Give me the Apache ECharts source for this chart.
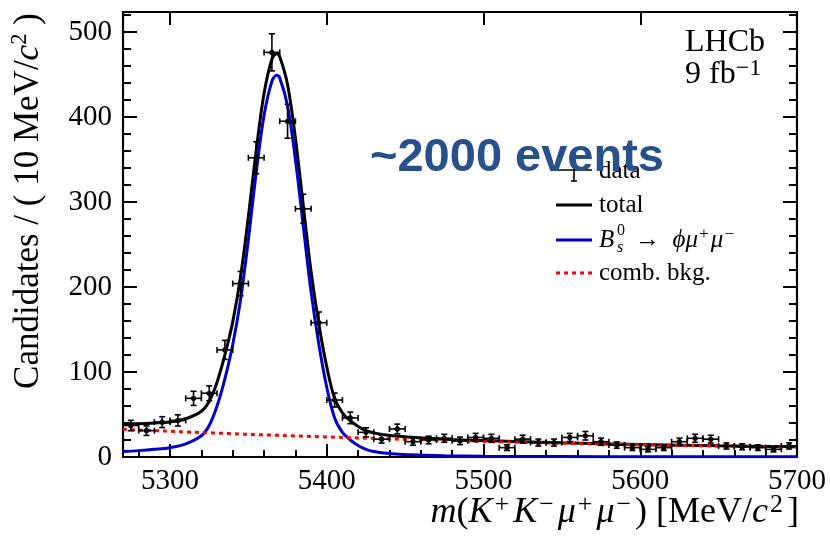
<!DOCTYPE html>
<html>
<head>
<meta charset="utf-8">
<script src="https://cdn.jsdelivr.net/npm/echarts@6/dist/echarts.min.js"></script>
<style>
html, body { margin: 0; padding: 0; background: #fff; }
#chart { width: 830px; height: 539px; }
</style>
</head>
<body>
<div id="chart"></div>
<script>
// data points: 10 MeV bins
var binCenters = [5275, 5285, 5295, 5305, 5315, 5325, 5335, 5345, 5355, 5365,
    5375, 5385, 5395, 5405, 5415, 5425, 5435, 5445, 5455, 5465,
    5475, 5485, 5495, 5505, 5515, 5525, 5535, 5545, 5555, 5565,
    5575, 5585, 5595, 5605, 5615, 5625, 5635, 5645, 5655, 5665,
    5675, 5685, 5695];
var counts = [37, 31, 41, 43, 69, 75, 126, 204, 352, 476,
    395, 292, 158, 67, 46, 29, 21, 33, 18, 20,
    22, 19, 23, 22, 11, 21, 17, 17, 23, 25,
    18, 14, 11, 9, 11, 18, 22, 21, 13, 12,
    11, 9, 13];
var countErrors = [6.1, 5.6, 6.4, 6.6, 8.3, 8.7, 11.2, 14.3, 18.8, 21.8,
    19.9, 17.1, 12.6, 8.2, 6.8, 5.4, 4.6, 5.7, 4.2, 4.5,
    4.7, 4.4, 4.8, 4.7, 3.3, 4.6, 4.1, 4.1, 4.8, 5.0,
    4.2, 3.7, 3.3, 3.0, 3.3, 4.2, 4.7, 4.6, 3.6, 3.5,
    3.3, 3.0, 3.6];
var binHalfWidth = 5;

// fit curves
var curveMass = [5270, 5280, 5290, 5300, 5310, 5320, 5325, 5330, 5335, 5340,
    5345, 5350, 5355, 5360, 5365, 5368, 5370, 5375, 5380, 5385,
    5390, 5395, 5400, 5405, 5410, 5415, 5420, 5425, 5430, 5440,
    5450, 5475, 5500, 5550, 5600, 5650, 5700];
var signalCurve = [6.5, 7.5, 9, 11, 15.5, 25, 37, 60, 92, 132,
    185, 256, 335, 402, 442, 449, 446, 413, 350, 272,
    194, 132, 82, 46, 29, 20, 13.5, 9, 6.5, 4,
    3, 1.6, 1, 0.5, 0.3, 0.2, 0.15];
var bkgCurve = [32.5, 31.7, 31, 30.3, 29.5, 28.8, 28.5, 28.1, 27.8, 27.4,
    27, 26.7, 26.4, 26, 25.7, 25.5, 25.4, 25.1, 24.8, 24.5,
    24.2, 23.9, 23.6, 23.3, 23, 22.7, 22.4, 22.2, 21.9, 21.3,
    20.8, 19.5, 18.3, 16.2, 14.5, 13, 11.8];
var totalCurve = [39, 39.2, 40, 41.3, 45, 53.8, 65.5, 88, 120, 159,
    212, 283, 361, 428, 468, 474.5, 471, 438, 375, 296,
    218, 156, 106, 69, 52, 42.7, 36, 31, 28.4, 25.3,
    23.8, 21, 19.3, 16.7, 14.8, 13.2, 12];

// axes
var xMin = 5270, xMax = 5700;
var yMin = 0, yMax = 523.5;
var xMajorTicks = [5300, 5400, 5500, 5600, 5700];
var xMinorTicks = [5280, 5320, 5340, 5360, 5380, 5420, 5440, 5460, 5480,
    5520, 5540, 5560, 5580, 5620, 5640, 5660, 5680];
var yMajorTicks = [0, 100, 200, 300, 400, 500];
var yMinorTicks = [20, 40, 60, 80, 120, 140, 160, 180, 220, 240, 260, 280,
    320, 340, 360, 380, 420, 440, 460, 480, 520];

var serif = '"Liberation Serif", "Times New Roman", serif';

function pairs(xs, ys) {
    return xs.map(function (x, i) { return [x, ys[i]]; });
}

function richSet(size, supScale, supPad) {
    supScale = supScale || 0.65;
    supPad = supPad || 0;
    return {
        r: { fontFamily: serif, fontSize: size, lineHeight: size * 1.15 },
        i: { fontFamily: serif, fontSize: size, fontStyle: 'italic', lineHeight: size * 1.15 },
        sup: { fontFamily: serif, fontSize: size * supScale, lineHeight: size * 0.5, verticalAlign: 'top', padding: [0, supPad, 0, supPad / 2] }
    };
}

function errorBar(params, api) {
    var x = api.value(0), y = api.value(1), e = api.value(2);
    var c = api.coord([x, y]);
    var lo = api.coord([x, y - e]);
    var hi = api.coord([x, y + e]);
    var l = api.coord([x - binHalfWidth, y]);
    var r = api.coord([x + binHalfWidth, y]);
    var cap = 3;
    var st = { stroke: '#000', lineWidth: 1.6 };
    return {
        type: 'group',
        children: [
            { type: 'line', shape: { x1: l[0], y1: c[1], x2: r[0], y2: c[1] }, style: st },
            { type: 'line', shape: { x1: l[0], y1: c[1] - cap, x2: l[0], y2: c[1] + cap }, style: st },
            { type: 'line', shape: { x1: r[0], y1: c[1] - cap, x2: r[0], y2: c[1] + cap }, style: st },
            { type: 'line', shape: { x1: c[0], y1: lo[1], x2: c[0], y2: hi[1] }, style: st },
            { type: 'line', shape: { x1: c[0] - cap, y1: lo[1], x2: c[0] + cap, y2: lo[1] }, style: st },
            { type: 'line', shape: { x1: c[0] - cap, y1: hi[1], x2: c[0] + cap, y2: hi[1] }, style: st },
            { type: 'circle', shape: { cx: c[0], cy: c[1], r: 2.6 }, style: { fill: '#000' } }
        ]
    };
}

function valueAxis(pos, min, max, opts) {
    var ax = {
        type: 'value',
        position: pos,
        min: min,
        max: max,
        scale: true,
        splitLine: { show: false },
        axisLine: { show: !!opts.line, onZero: false, lineStyle: { color: '#000', width: 2.2 } },
        axisTick: {
            show: true,
            inside: true,
            length: opts.tickLen,
            customValues: opts.ticks,
            lineStyle: { color: '#000', width: 2 }
        },
        axisLabel: { show: false }
    };
    if (opts.labels) {
        ax.axisLabel = {
            show: true,
            customValues: opts.labels,
            formatter: function (v) { return '{t|' + v + '}'; },
            rich: { t: { fontFamily: serif, fontSize: 29, color: '#000' } },
            fontFamily: serif,
            fontSize: 29,
            color: '#000',
            margin: opts.margin
        };
    }
    return ax;
}

var chart = echarts.init(document.getElementById('chart'), null, { renderer: 'canvas' });

var option = {
    animation: false,
    backgroundColor: '#fff',
    textStyle: { fontFamily: serif },
    grid: { left: 123, right: 33, top: 12, bottom: 82, containLabel: false },
    xAxis: [
        valueAxis('bottom', xMin, xMax, { line: true, tickLen: 13, ticks: xMajorTicks, labels: xMajorTicks, margin: 10 }),
        valueAxis('bottom', xMin, xMax, { tickLen: 7, ticks: xMinorTicks }),
        valueAxis('top', xMin, xMax, { line: true, tickLen: 13, ticks: xMajorTicks })
    ],
    yAxis: [
        valueAxis('left', yMin, yMax, { line: true, tickLen: 14, ticks: yMajorTicks, labels: yMajorTicks, margin: 11 }),
        valueAxis('left', yMin, yMax, { tickLen: 8, ticks: yMinorTicks }),
        valueAxis('right', yMin, yMax, { line: true, tickLen: 14, ticks: yMajorTicks }),
        valueAxis('right', yMin, yMax, { tickLen: 8, ticks: yMinorTicks })
    ],
    series: [
        {
            name: 'total',
            type: 'line',
            data: pairs(curveMass, totalCurve),
            smooth: 0.35,
            showSymbol: false,
            lineStyle: { color: '#000', width: 3 },
            z: 2
        },
        {
            name: 'signal',
            type: 'line',
            data: pairs(curveMass, signalCurve),
            smooth: 0.35,
            showSymbol: false,
            lineStyle: { color: '#0000cc', width: 3 },
            z: 3
        },
        {
            name: 'comb. bkg.',
            type: 'line',
            data: pairs(curveMass, bkgCurve),
            smooth: 0.35,
            showSymbol: false,
            lineStyle: { color: '#ff0000', width: 3, type: [4, 4] },
            z: 4
        },
        {
            name: 'data',
            type: 'custom',
            renderItem: errorBar,
            data: binCenters.map(function (m, i) { return [m, counts[i], countErrors[i]]; }),
            encode: { x: 0, y: 1 },
            clip: true,
            z: 5
        }
    ],
    graphic: [
        // y title
        {
            type: 'text', x: 29, y: 201, rotation: Math.PI / 2,
            style: {
                text: '{r|Candidates / ( 10 MeV/}{i|c}{sup|2}{r| )}',
                rich: richSet(35), fill: '#000', align: 'center', verticalAlign: 'middle'
            }
        },
        // x title
        {
            type: 'text', x: 799, y: 513,
            style: {
                text: '{i|m}{r|(}{i|K}{sup|+}{i|K}{sup|\u2212}{i|\u03bc}{sup|+}{i|\u03bc}{sup|\u2212}{r|) [MeV/}{i|c}{sup|2}{r|]}',
                rich: richSet(36, 0.72, 4), fill: '#000', align: 'right', verticalAlign: 'middle'
            }
        },
        // LHCb label
        {
            type: 'text', x: 685, y: 43,
            style: { text: 'LHCb', font: '32px ' + serif, fill: '#000', verticalAlign: 'middle' }
        },
        {
            type: 'text', x: 685, y: 75,
            style: { text: '{r|9 fb}{sup|\u22121}', rich: richSet(32, 0.75), fill: '#000', verticalAlign: 'middle' }
        },
        // legend
        { type: 'line', shape: { x1: 556, y1: 170, x2: 592, y2: 170 }, style: { stroke: '#000', lineWidth: 1.6 } },
        { type: 'line', shape: { x1: 574, y1: 160, x2: 574, y2: 181 }, style: { stroke: '#000', lineWidth: 1.6 } },
        { type: 'line', shape: { x1: 571, y1: 181, x2: 577, y2: 181 }, style: { stroke: '#000', lineWidth: 1.6 } },
        { type: 'text', x: 599, y: 171, style: { text: 'data', font: '25px ' + serif, fill: '#000', verticalAlign: 'middle' } },
        { type: 'line', shape: { x1: 556, y1: 205, x2: 592, y2: 205 }, style: { stroke: '#000', lineWidth: 3 } },
        { type: 'text', x: 599, y: 205, style: { text: 'total', font: '25px ' + serif, fill: '#000', verticalAlign: 'middle' } },
        { type: 'line', shape: { x1: 556, y1: 240, x2: 592, y2: 240 }, style: { stroke: '#0000cc', lineWidth: 3 } },
        { type: 'text', x: 599, y: 240, style: { text: 'B', font: 'italic 25px ' + serif, fill: '#000', verticalAlign: 'middle' } },
        { type: 'text', x: 617, y: 231, style: { text: '0', font: '16px ' + serif, fill: '#000', verticalAlign: 'middle' } },
        { type: 'text', x: 617, y: 248, style: { text: 's', font: 'italic 16px ' + serif, fill: '#000', verticalAlign: 'middle' } },
        {
            type: 'text', x: 635, y: 240,
            style: {
                text: '{r|\u2192  }{i|\u03d5\u03bc}{sup|+}{i|\u03bc}{sup|\u2212}',
                rich: richSet(25, 0.7, 2), fill: '#000', verticalAlign: 'middle'
            }
        },
        { type: 'line', shape: { x1: 556, y1: 273, x2: 592, y2: 273 }, style: { stroke: '#ff0000', lineWidth: 3, lineDash: [4, 4] } },
        { type: 'text', x: 599, y: 273, style: { text: 'comb. bkg.', font: '25px ' + serif, fill: '#000', verticalAlign: 'middle' } },
        // annotation
        {
            type: 'text', x: 517, y: 158, z: 100,
            style: {
                text: '~2000 events',
                font: 'bold 47px "Liberation Sans", Arial, sans-serif',
                fill: '#28508a', align: 'center', verticalAlign: 'middle'
            }
        }
    ]
};

chart.setOption(option);
</script>
</body>
</html>
